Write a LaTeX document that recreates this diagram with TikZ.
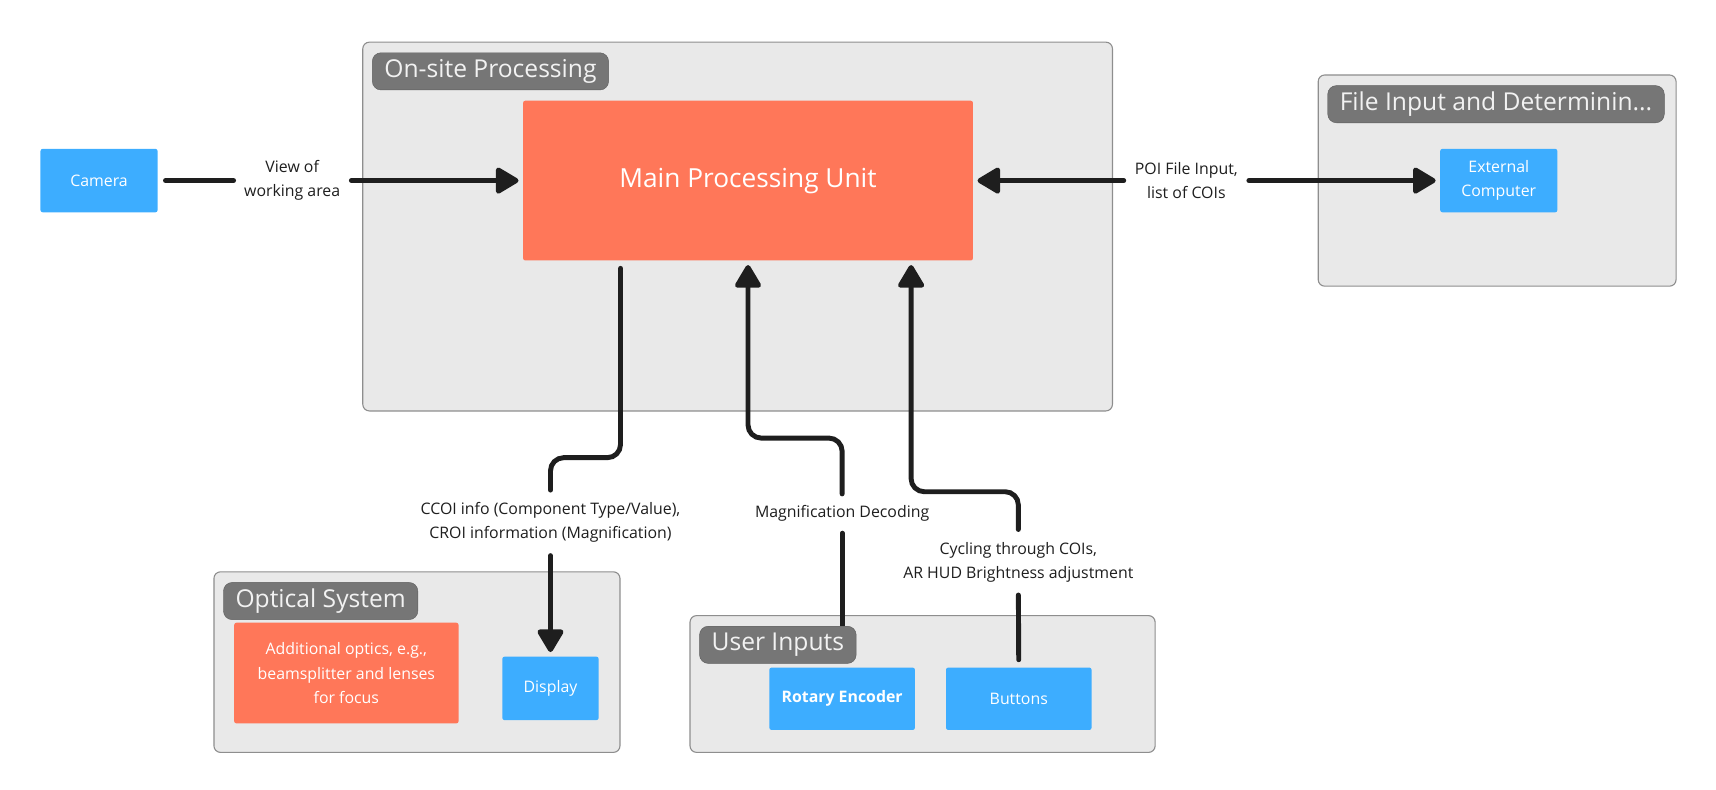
\documentclass[tikz,border=0pt]{standalone}
\usepackage{fontspec}
\setmainfont{Open Sans}
\usepackage{tikz}
\usetikzlibrary{arrows.meta, positioning, calc}
\definecolor{grpfill}{HTML}{E9E9E9}
\definecolor{grpline}{HTML}{8E8E8E}
\definecolor{tagfill}{HTML}{767676}
\definecolor{tagline}{HTML}{5F5F5F}
\definecolor{coral}{HTML}{FF7759}
\definecolor{skyblue}{HTML}{3DADFF}
\definecolor{ink}{HTML}{1E1E1E}
\tikzset{
	grp/.style={draw=grpline, fill=grpfill, line width=1pt, rounded corners=6pt, anchor=north west, inner sep=0pt},
	grptag/.style={draw=tagline, fill=tagfill, text=white!95!black, rounded corners=8pt, anchor=north west,
		minimum height=34pt, inner xsep=11pt, inner ysep=0pt, font=\fontsize{22.5}{26}\selectfont},
	procbox/.style={fill=coral, text=white, rounded corners=2pt, align=center, inner sep=0pt},
	iobox/.style={fill=skyblue, text=white, rounded corners=2pt, align=center, inner sep=0pt,
		minimum width=107pt, minimum height=58pt, font=\fontsize{14.5}{22}\selectfont},
	flow/.style={draw=ink, line width=4.5pt, line cap=round, rounded corners=12pt, shorten <=7pt, shorten >=4pt},
	flowend/.style={shorten >=6.5pt},
	flowtip/.style={-{Triangle[length=23pt,width=26pt,round]}},
	flowlabel/.style={text=ink, align=center, inner xsep=3pt, inner ysep=0pt, font=\fontsize{14.5}{22}\selectfont},
}

\begin{document}
\begin{tikzpicture}[x=1pt, y=-1pt]
	\useasboundingbox (0,0) rectangle (1568,721);

	% groups
	\node[grp, minimum width=685pt, minimum height=337pt] (ONSITE) at (331,38) {};
	\node[grp, minimum width=327pt, minimum height=193pt] (FILEGRP) at (1204,68) {};
	\node[grp, minimum width=371pt, minimum height=165pt] (OPTGRP) at (195,522) {};
	\node[grp, minimum width=425pt, minimum height=125pt] (USERGRP) at (630,562) {};

	% blocks
	\node[procbox, minimum width=411pt, minimum height=146pt, font=\fontsize{24}{29}\selectfont] (MPU) at (683.5,165) {Main Processing Unit};
	\node[iobox] (CAM) at (90.5,165) {Camera};
	\node[iobox] (EXT) at (1369.5,165) {External\\Computer};
	\node[procbox, minimum width=205pt, minimum height=92pt, font=\fontsize{14.5}{22}\selectfont] (OPTICS) at (316.5,615) {Additional optics, e.g.,\\beamsplitter and lenses\\for focus};
	\node[iobox, minimum width=88pt] (DISP) at (503,629) {Display};
	\node[iobox, minimum width=133pt, minimum height=57pt, font=\bfseries\fontsize{14.5}{22}\selectfont] (ROT) at (769.5,638.5) {Rotary Encoder};
	\node[iobox, minimum width=133pt, minimum height=57pt, right=28pt of ROT] (BTN) {Buttons};

	% labels
	\node[flowlabel] (VIEW) at (267,165) {View of\\working area};
	\node[flowlabel] (POI) at (1084,165) {POI File Input,\\list of COIs};
	\node[flowlabel, minimum height=46pt] (CCOI) at (503,477.5) {CCOI info (Component Type/Value),\\CROI information (Magnification)};
	\node[flowlabel, minimum height=22pt] (MAG) at (769.5,469.5) {Magnification Decoding};
	\node[flowlabel, minimum height=46pt] (CYC) at (930.5,514) {Cycling through COIs,\\AR HUD Brightness adjustment};

	\draw[flow, flowend] (CAM) -- (VIEW);
	\draw[flow, flowtip] (VIEW) -- (MPU);
	%
	\draw[flow, flowtip] (POI) -- (MPU);
	\draw[flow, flowtip] (POI) -- (EXT);
	%
	\draw[flow, flowend] ([xshift=-116.5pt]MPU.south) -- ++(0,180) -| (CCOI.north);
	\draw[flow, flowtip] (CCOI.south) -- (DISP.north);
	%
	\draw[flow, flowend] (ROT.north) -- (MAG.south);
	\draw[flow, flowtip] (MAG.north) -- ++(0,-58) -| (MPU.south);
	%
	\draw[flow, flowend] (BTN.north) -- (CYC.south);
	\draw[flow, flowtip] (CYC.north) -- ++(0,-41.5) -| ([xshift=149pt]MPU.south);

	% group titles
	\node[grptag] (ONSITETAG) at (340,48) {On-site Processing};
	\node[grptag] (FILETAG) at (1213,78) {File Input and Determinin...};
	\node[grptag] (OPTTAG) at (204,532) {Optical System};
	\node[grptag] (USERTAG) at (639,572) {User Inputs};
\end{tikzpicture}
\end{document}
